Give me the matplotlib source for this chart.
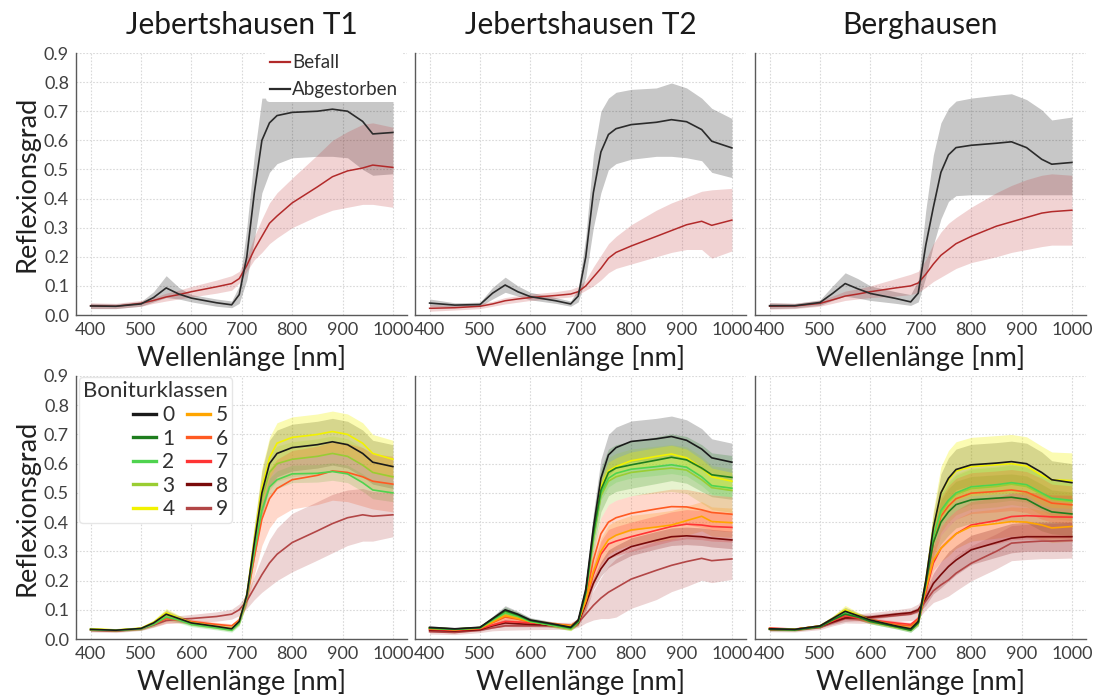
import numpy as np
import matplotlib
matplotlib.use("Agg")
import matplotlib.pyplot as plt
from matplotlib.lines import Line2D

plt.rcParams['font.family'] = ['Lato', 'DejaVu Sans']

# ---------------- data ----------------
W = [400, 450, 500, 525, 550, 575, 600, 650, 680, 695, 710, 725, 740, 755, 770, 800, 850, 880, 910, 940, 960, 1000]

titles = ["Jebertshausen T1", "Jebertshausen T2", "Berghausen"]
top_labels = ["Befall", "Abgestorben"]
class_labels = ["0", "1", "2", "3", "4", "5", "6", "7", "8", "9"]
xticks = [400, 500, 600, 700, 800, 900, 1000]
yticks = [0.0, 0.1, 0.2, 0.3, 0.4, 0.5, 0.6, 0.7, 0.8, 0.9]

# top row: Abgestorben (mean / lower / upper) and Befall (mean / lower / upper)
t1_abg = [0.031, 0.03, 0.038, 0.06, 0.093, 0.072, 0.058, 0.042, 0.035, 0.07, 0.2, 0.42, 0.6, 0.66, 0.685, 0.696, 0.70, 0.707, 0.70, 0.665, 0.622, 0.627]
t1_abg_lo = [0.022, 0.022, 0.03, 0.045, 0.06, 0.055, 0.045, 0.03, 0.025, 0.04, 0.12, 0.26, 0.42, 0.49, 0.52, 0.54, 0.545, 0.545, 0.54, 0.5, 0.48, 0.485]
t1_abg_hi = [0.04, 0.038, 0.046, 0.08, 0.135, 0.095, 0.07, 0.055, 0.048, 0.1, 0.3, 0.55, 0.745, 0.745, 0.745, 0.745, 0.745, 0.745, 0.745, 0.745, 0.745, 0.745]
t1_bef = [0.032, 0.03, 0.04, 0.05, 0.062, 0.07, 0.08, 0.097, 0.108, 0.125, 0.17, 0.225, 0.27, 0.315, 0.34, 0.385, 0.44, 0.475, 0.495, 0.505, 0.515, 0.507]
t1_bef_lo = [0.022, 0.022, 0.03, 0.04, 0.048, 0.055, 0.062, 0.075, 0.085, 0.11, 0.15, 0.19, 0.215, 0.245, 0.265, 0.3, 0.34, 0.36, 0.37, 0.38, 0.38, 0.37]
t1_bef_hi = [0.042, 0.04, 0.05, 0.06, 0.075, 0.085, 0.098, 0.12, 0.135, 0.15, 0.2, 0.27, 0.33, 0.385, 0.42, 0.47, 0.55, 0.6, 0.63, 0.655, 0.66, 0.645]

t2_abg = [0.041, 0.034, 0.036, 0.075, 0.103, 0.08, 0.063, 0.049, 0.038, 0.065, 0.2, 0.42, 0.56, 0.62, 0.64, 0.654, 0.662, 0.671, 0.664, 0.637, 0.597, 0.574]
t2_abg_lo = [0.03, 0.028, 0.03, 0.055, 0.078, 0.065, 0.052, 0.04, 0.03, 0.045, 0.13, 0.3, 0.42, 0.5, 0.52, 0.535, 0.545, 0.545, 0.54, 0.53, 0.49, 0.472]
t2_abg_hi = [0.055, 0.042, 0.044, 0.095, 0.13, 0.1, 0.078, 0.06, 0.048, 0.09, 0.27, 0.55, 0.7, 0.745, 0.765, 0.775, 0.78, 0.797, 0.78, 0.745, 0.71, 0.675]
t2_bef = [0.023, 0.025, 0.03, 0.038, 0.049, 0.055, 0.06, 0.067, 0.072, 0.08, 0.1, 0.13, 0.16, 0.195, 0.215, 0.237, 0.27, 0.29, 0.31, 0.322, 0.308, 0.326]
t2_bef_lo = [0.013, 0.017, 0.022, 0.03, 0.038, 0.044, 0.05, 0.057, 0.062, 0.07, 0.085, 0.1, 0.12, 0.145, 0.16, 0.175, 0.2, 0.215, 0.225, 0.225, 0.195, 0.22]
t2_bef_hi = [0.035, 0.033, 0.04, 0.047, 0.06, 0.066, 0.072, 0.08, 0.088, 0.098, 0.12, 0.165, 0.205, 0.245, 0.27, 0.31, 0.36, 0.385, 0.405, 0.425, 0.43, 0.435]

t3_abg = [0.032, 0.032, 0.043, 0.074, 0.108, 0.09, 0.074, 0.057, 0.045, 0.075, 0.24, 0.37, 0.49, 0.55, 0.575, 0.583, 0.59, 0.595, 0.575, 0.535, 0.518, 0.524]
t3_abg_lo = [0.022, 0.024, 0.033, 0.05, 0.065, 0.058, 0.05, 0.04, 0.033, 0.045, 0.13, 0.24, 0.33, 0.39, 0.41, 0.413, 0.413, 0.413, 0.413, 0.413, 0.413, 0.413]
t3_abg_hi = [0.042, 0.04, 0.052, 0.1, 0.145, 0.125, 0.1, 0.08, 0.07, 0.12, 0.36, 0.55, 0.66, 0.71, 0.735, 0.745, 0.755, 0.76, 0.74, 0.705, 0.67, 0.68]
t3_bef = [0.03, 0.031, 0.04, 0.052, 0.065, 0.072, 0.08, 0.093, 0.1, 0.11, 0.14, 0.175, 0.205, 0.225, 0.245, 0.27, 0.305, 0.32, 0.335, 0.35, 0.355, 0.36]
t3_bef_lo = [0.02, 0.022, 0.03, 0.04, 0.05, 0.055, 0.06, 0.065, 0.07, 0.078, 0.095, 0.115, 0.13, 0.145, 0.16, 0.18, 0.2, 0.215, 0.225, 0.235, 0.24, 0.24]
t3_bef_hi = [0.042, 0.04, 0.05, 0.065, 0.082, 0.09, 0.1, 0.125, 0.14, 0.15, 0.19, 0.245, 0.285, 0.315, 0.335, 0.37, 0.42, 0.445, 0.465, 0.48, 0.485, 0.48]

# standard-deviation profiles (band half widths) read from the shaded areas
sd30 = [0.005, 0.004, 0.005, 0.008, 0.012, 0.01, 0.008, 0.007, 0.007, 0.01, 0.025, 0.02, 0.025, 0.03, 0.03, 0.03, 0.03, 0.03, 0.03, 0.03, 0.03, 0.03]
sd50 = [0.005, 0.004, 0.005, 0.008, 0.012, 0.01, 0.008, 0.007, 0.007, 0.01, 0.025, 0.035, 0.045, 0.05, 0.05, 0.05, 0.05, 0.05, 0.05, 0.05, 0.05, 0.05]
sd60 = [0.005, 0.004, 0.005, 0.008, 0.012, 0.01, 0.008, 0.007, 0.007, 0.01, 0.025, 0.04, 0.055, 0.06, 0.06, 0.06, 0.06, 0.06, 0.06, 0.06, 0.06, 0.06]
sd70 = [0.005, 0.004, 0.005, 0.008, 0.014, 0.01, 0.008, 0.007, 0.007, 0.01, 0.025, 0.05, 0.065, 0.07, 0.07, 0.07, 0.07, 0.07, 0.07, 0.07, 0.065, 0.065]
sd80 = [0.005, 0.004, 0.005, 0.008, 0.014, 0.01, 0.008, 0.007, 0.007, 0.01, 0.025, 0.055, 0.075, 0.08, 0.08, 0.08, 0.08, 0.08, 0.08, 0.08, 0.075, 0.075]
sd100 = [0.005, 0.004, 0.005, 0.008, 0.015, 0.01, 0.008, 0.007, 0.007, 0.01, 0.025, 0.06, 0.09, 0.1, 0.1, 0.1, 0.1, 0.1, 0.1, 0.1, 0.095, 0.095]
sd9_t1 = [0.006, 0.005, 0.006, 0.008, 0.01, 0.012, 0.014, 0.016, 0.017, 0.02, 0.025, 0.04, 0.06, 0.08, 0.09, 0.1, 0.1, 0.1, 0.095, 0.09, 0.085, 0.075]
sd9_t2 = [0.008, 0.007, 0.008, 0.01, 0.015, 0.014, 0.013, 0.012, 0.012, 0.015, 0.03, 0.05, 0.07, 0.09, 0.1, 0.1, 0.1, 0.09, 0.085, 0.075, 0.075, 0.07]
sd9_t3 = [0.008, 0.007, 0.008, 0.01, 0.015, 0.016, 0.018, 0.02, 0.022, 0.025, 0.03, 0.04, 0.05, 0.055, 0.06, 0.06, 0.06, 0.06, 0.06, 0.06, 0.06, 0.06]

# bottom row, Jebertshausen T1 (classes 0, 2, 3, 4, 6, 9 visible)
b1_c0 = [0.033, 0.03, 0.036, 0.055, 0.085, 0.07, 0.055, 0.043, 0.035, 0.06, 0.15, 0.33, 0.5, 0.6, 0.635, 0.655, 0.665, 0.675, 0.665, 0.635, 0.605, 0.59]
b1_c2 = [0.032, 0.029, 0.035, 0.05, 0.075, 0.065, 0.05, 0.038, 0.03, 0.055, 0.145, 0.3, 0.44, 0.52, 0.545, 0.565, 0.567, 0.573, 0.565, 0.535, 0.51, 0.50]
b1_c3 = [0.033, 0.03, 0.036, 0.053, 0.082, 0.068, 0.053, 0.04, 0.033, 0.058, 0.148, 0.32, 0.48, 0.57, 0.6, 0.615, 0.625, 0.635, 0.625, 0.595, 0.57, 0.555]
b1_c4 = [0.035, 0.031, 0.037, 0.057, 0.09, 0.072, 0.056, 0.043, 0.036, 0.06, 0.15, 0.34, 0.52, 0.62, 0.67, 0.69, 0.70, 0.71, 0.70, 0.67, 0.635, 0.615]
b1_c6 = [0.032, 0.029, 0.036, 0.05, 0.07, 0.065, 0.06, 0.05, 0.045, 0.065, 0.14, 0.28, 0.41, 0.48, 0.515, 0.545, 0.56, 0.575, 0.57, 0.555, 0.54, 0.53]
b1_c9 = [0.03, 0.027, 0.035, 0.048, 0.063, 0.068, 0.07, 0.077, 0.085, 0.1, 0.13, 0.175, 0.22, 0.26, 0.29, 0.33, 0.37, 0.395, 0.415, 0.425, 0.42, 0.425]

# bottom row, Jebertshausen T2
b2_c0 = [0.04, 0.035, 0.04, 0.07, 0.1, 0.085, 0.065, 0.05, 0.04, 0.065, 0.17, 0.38, 0.55, 0.63, 0.655, 0.676, 0.685, 0.693, 0.68, 0.65, 0.62, 0.605]
b2_c1 = [0.038, 0.034, 0.039, 0.068, 0.096, 0.082, 0.063, 0.048, 0.038, 0.06, 0.16, 0.36, 0.51, 0.57, 0.585, 0.596, 0.612, 0.622, 0.613, 0.585, 0.562, 0.553]
b2_c2 = [0.037, 0.033, 0.038, 0.065, 0.09, 0.078, 0.06, 0.045, 0.035, 0.058, 0.16, 0.35, 0.5, 0.55, 0.567, 0.581, 0.59, 0.596, 0.588, 0.555, 0.525, 0.516]
b2_c3 = [0.037, 0.033, 0.038, 0.064, 0.088, 0.077, 0.06, 0.045, 0.036, 0.058, 0.155, 0.34, 0.49, 0.54, 0.555, 0.57, 0.58, 0.585, 0.578, 0.545, 0.518, 0.508]
b2_c4 = [0.038, 0.034, 0.039, 0.066, 0.09, 0.078, 0.06, 0.046, 0.036, 0.06, 0.16, 0.36, 0.52, 0.575, 0.59, 0.61, 0.625, 0.633, 0.62, 0.585, 0.555, 0.54]
b2_c5 = [0.036, 0.032, 0.037, 0.058, 0.08, 0.07, 0.06, 0.05, 0.045, 0.06, 0.13, 0.23, 0.3, 0.34, 0.355, 0.373, 0.383, 0.39, 0.405, 0.42, 0.402, 0.398]
b2_c6 = [0.036, 0.032, 0.037, 0.056, 0.075, 0.068, 0.058, 0.05, 0.045, 0.062, 0.14, 0.27, 0.36, 0.4, 0.415, 0.43, 0.445, 0.453, 0.452, 0.442, 0.433, 0.427]
b2_c7 = [0.033, 0.03, 0.035, 0.048, 0.06, 0.058, 0.055, 0.05, 0.045, 0.06, 0.13, 0.22, 0.29, 0.325, 0.335, 0.35, 0.372, 0.385, 0.393, 0.39, 0.385, 0.382]
b2_c8 = [0.03, 0.027, 0.032, 0.045, 0.055, 0.052, 0.05, 0.047, 0.044, 0.055, 0.12, 0.19, 0.24, 0.275, 0.29, 0.316, 0.338, 0.35, 0.353, 0.35, 0.345, 0.339]
b2_c9 = [0.025, 0.022, 0.03, 0.038, 0.045, 0.045, 0.045, 0.045, 0.045, 0.055, 0.085, 0.115, 0.14, 0.16, 0.175, 0.205, 0.235, 0.252, 0.265, 0.276, 0.268, 0.274]

# bottom row, Berghausen
b3_c0 = [0.035, 0.033, 0.045, 0.07, 0.095, 0.08, 0.065, 0.045, 0.035, 0.06, 0.2, 0.38, 0.5, 0.55, 0.58, 0.596, 0.602, 0.607, 0.6, 0.57, 0.545, 0.535]
b3_c1 = [0.033, 0.031, 0.042, 0.065, 0.085, 0.075, 0.06, 0.042, 0.03, 0.055, 0.19, 0.33, 0.4, 0.435, 0.46, 0.476, 0.482, 0.485, 0.478, 0.45, 0.435, 0.428]
b3_c2 = [0.034, 0.032, 0.043, 0.067, 0.09, 0.077, 0.06, 0.042, 0.03, 0.055, 0.19, 0.35, 0.44, 0.475, 0.5, 0.521, 0.528, 0.535, 0.528, 0.5, 0.482, 0.474]
b3_c3 = [0.034, 0.032, 0.043, 0.066, 0.088, 0.076, 0.06, 0.043, 0.032, 0.056, 0.19, 0.345, 0.43, 0.47, 0.495, 0.515, 0.522, 0.53, 0.522, 0.495, 0.478, 0.47]
b3_c4 = [0.035, 0.033, 0.045, 0.07, 0.1, 0.082, 0.065, 0.045, 0.035, 0.06, 0.2, 0.38, 0.5, 0.545, 0.575, 0.59, 0.596, 0.6, 0.592, 0.56, 0.545, 0.542]
b3_c5 = [0.035, 0.032, 0.043, 0.065, 0.09, 0.078, 0.063, 0.045, 0.037, 0.06, 0.17, 0.27, 0.31, 0.335, 0.36, 0.385, 0.395, 0.402, 0.4, 0.39, 0.38, 0.385]
b3_c6 = [0.036, 0.033, 0.044, 0.065, 0.085, 0.075, 0.063, 0.05, 0.045, 0.065, 0.18, 0.33, 0.42, 0.455, 0.48, 0.499, 0.505, 0.51, 0.503, 0.48, 0.465, 0.459]
b3_c7 = [0.037, 0.034, 0.044, 0.062, 0.08, 0.072, 0.065, 0.055, 0.05, 0.07, 0.16, 0.26, 0.31, 0.336, 0.36, 0.39, 0.405, 0.419, 0.422, 0.42, 0.418, 0.417]
b3_c8 = [0.035, 0.033, 0.043, 0.058, 0.072, 0.073, 0.075, 0.085, 0.09, 0.1, 0.14, 0.19, 0.22, 0.248, 0.27, 0.305, 0.33, 0.345, 0.35, 0.35, 0.35, 0.35]
b3_c9 = [0.033, 0.031, 0.04, 0.055, 0.07, 0.07, 0.072, 0.08, 0.085, 0.095, 0.13, 0.165, 0.185, 0.202, 0.225, 0.259, 0.3, 0.328, 0.332, 0.335, 0.335, 0.337]

# ---------------- style ----------------
top_colors = ["#b22a2a", "#2b2b2b"]
class_colors = ["#1a1a1a", "#1e7d1e", "#4fd34f", "#9acd32", "#f2f200",
                "#ffa500", "#ff5a22", "#ff3434", "#7a0a0a", "#b24646"]
TICK_C = "#404040"

fig = plt.figure(figsize=(10.96, 6.98), dpi=100)
lefts = [76 / 1096, 415 / 1096, 755 / 1096]
width = 331 / 1096
top_b, top_h = 1 - 315 / 698, 262 / 698
bot_b, bot_h = 1 - 639 / 698, 263 / 698


def style(ax, first):
    ax.set_xlim(371, 1028)
    ax.set_ylim(0, 0.9)
    ax.set_xticks(xticks)
    ax.set_yticks(yticks)
    ax.set_yticklabels([f"{v:.1f}" for v in yticks] if first else [])
    ax.grid(True, color="#d9d9d9", linestyle=(0, (1.5, 1.5)), linewidth=0.8)
    ax.set_axisbelow(True)
    for s in ["top", "right"]:
        ax.spines[s].set_visible(False)
    for s in ["left", "bottom"]:
        ax.spines[s].set_color("#5a5a5a")
        ax.spines[s].set_linewidth(1.0)
    ax.tick_params(length=0, labelsize=13, colors=TICK_C, pad=5)
    ax.set_xlabel("Wellenlänge [nm]", fontsize=19.5, color="#202020", labelpad=5)
    if first:
        ax.set_ylabel("Reflexionsgrad", fontsize=19.5, color="#202020", labelpad=3)


top_data = [
    (t1_bef, t1_bef_lo, t1_bef_hi, t1_abg, t1_abg_lo, t1_abg_hi),
    (t2_bef, t2_bef_lo, t2_bef_hi, t2_abg, t2_abg_lo, t2_abg_hi),
    (t3_bef, t3_bef_lo, t3_bef_hi, t3_abg, t3_abg_lo, t3_abg_hi),
]

for i in range(3):
    ax = fig.add_axes([lefts[i], top_b, width, top_h])
    bef, bef_lo, bef_hi, abg, abg_lo, abg_hi = top_data[i]
    ax.fill_between(W, abg_lo, abg_hi, color="#000000", alpha=0.22, linewidth=0)
    ax.fill_between(W, bef_lo, bef_hi, color="#c0393b", alpha=0.22, linewidth=0)
    ax.plot(W, bef, color=top_colors[0], lw=1.1)
    ax.plot(W, abg, color=top_colors[1], lw=1.2)
    style(ax, i == 0)
    fig.text(lefts[i] + width / 2, 1 - 25 / 698, titles[i], ha="center", va="center",
             fontsize=21.5, color="#1a1a1a")
    if i == 0:
        handles = [Line2D([], [], color=top_colors[0], lw=1.6),
                   Line2D([], [], color=top_colors[1], lw=1.6)]
        leg = ax.legend(handles, top_labels, loc="upper right", bbox_to_anchor=(0.985, 1.01),
                        frameon=True, framealpha=1, facecolor="white", edgecolor="none",
                        fontsize=13.5, handlelength=1.1, handletextpad=0.1,
                        labelspacing=0.55, borderpad=0.2, borderaxespad=0)
        for t in leg.get_texts():
            t.set_color("#303030")

bottom_sets = [
    [(0, b1_c0, sd80), (3, b1_c3, sd60), (4, b1_c4, sd70), (2, b1_c2, sd30),
     (6, b1_c6, sd100), (9, b1_c9, sd9_t1)],
    [(0, b2_c0, sd70), (1, b2_c1, sd80), (2, b2_c2, sd30), (3, b2_c3, sd80),
     (4, b2_c4, sd30), (5, b2_c5, sd50), (6, b2_c6, sd60), (7, b2_c7, sd50),
     (8, b2_c8, sd30), (9, b2_c9, sd9_t2)],
    [(0, b3_c0, sd70), (1, b3_c1, sd80), (2, b3_c2, sd60), (3, b3_c3, sd70),
     (4, b3_c4, sd100), (5, b3_c5, sd50), (6, b3_c6, sd70), (7, b3_c7, sd80),
     (8, b3_c8, sd50), (9, b3_c9, sd9_t3)],
]

for i in range(3):
    ax = fig.add_axes([lefts[i], bot_b, width, bot_h])
    sets = bottom_sets[i]
    for cls, m, sd in sets:
        m = np.asarray(m)
        sd = np.asarray(sd)
        fa = 0.3 if cls == 4 else 0.23
        ax.fill_between(W, m - sd, m + sd, color=class_colors[cls], alpha=fa, linewidth=0)
    for cls, m, sd in sorted(sets, key=lambda t: -t[0]):
        ax.plot(W, m, color=class_colors[cls], lw=1.2)
    style(ax, i == 0)
    if i == 0:
        handles = [Line2D([], [], color=c, lw=2.4) for c in class_colors]
        leg = ax.legend(handles, class_labels, ncol=2, title="Boniturklassen",
                        loc="upper left", bbox_to_anchor=(0.01, 0.995), alignment="right",
                        frameon=True, framealpha=1, facecolor="white", edgecolor="#e6e6e6",
                        fontsize=15, title_fontsize=16, handlelength=1.1,
                        handletextpad=0.3, columnspacing=0.6, labelspacing=0.17,
                        borderpad=0.2, borderaxespad=0)
        leg.get_title().set_color("#303030")
        for t in leg.get_texts():
            t.set_color("#303030")

fig.savefig("out.png", dpi=100)
